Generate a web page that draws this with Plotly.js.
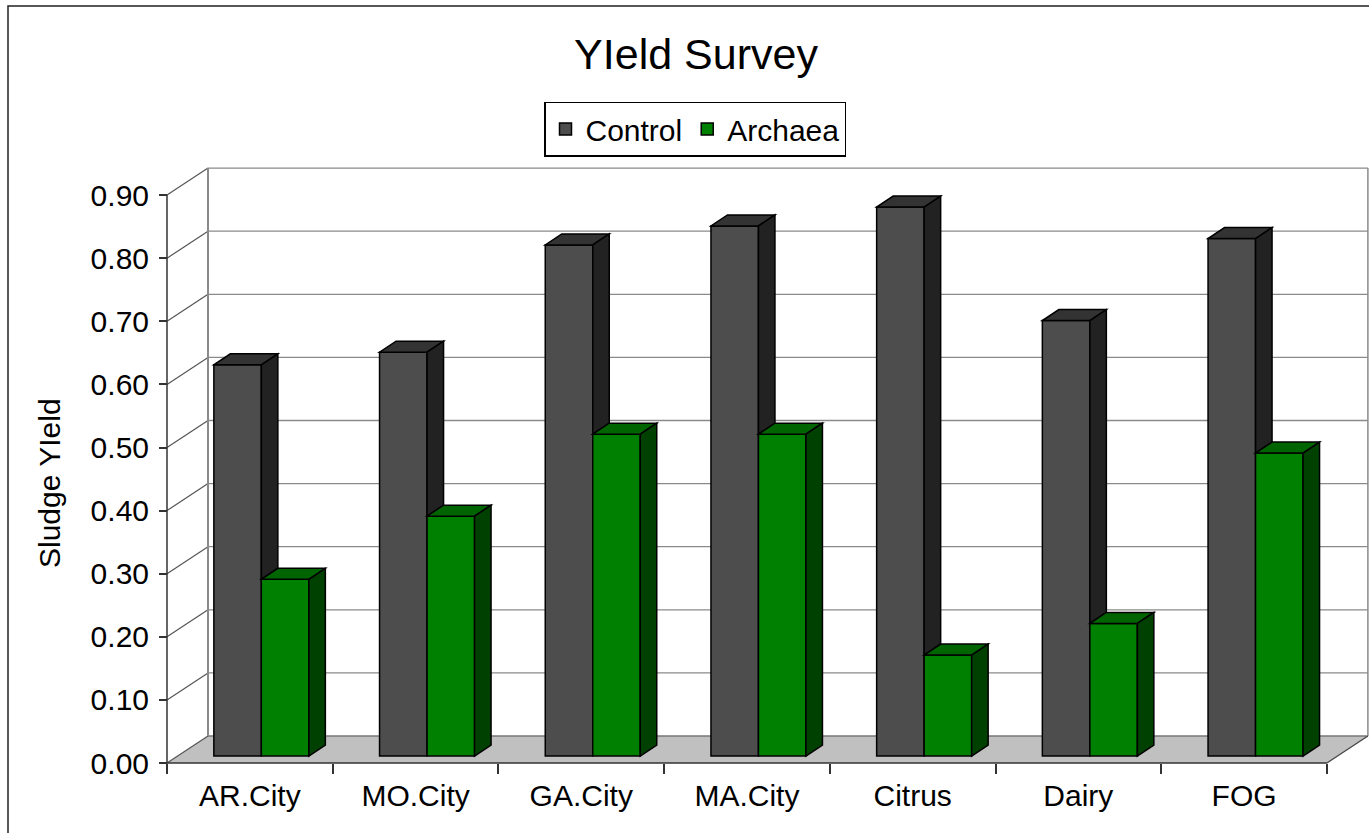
<!DOCTYPE html>
<html>
<head>
<meta charset="utf-8">
<script src="https://cdn.plot.ly/plotly-3.0.1.min.js"></script>
<style>html,body{margin:0;padding:0;background:#fff;}#chart{width:1369px;height:833px;}</style>
</head>
<body>
<div id="chart"></div>
<script>
// ---- data ----
const categories = ['AR.City', 'MO.City', 'GA.City', 'MA.City', 'Citrus', 'Dairy', 'FOG'];
const control = [0.62, 0.64, 0.81, 0.84, 0.87, 0.69, 0.82];
const archaea = [0.28, 0.38, 0.51, 0.51, 0.16, 0.21, 0.48];
const yTicks = [0.0, 0.1, 0.2, 0.3, 0.4, 0.5, 0.6, 0.7, 0.8, 0.9];
const seriesNames = ['Control', 'Archaea'];

// ---- geometry (pixels -> data units) ----
const ML = 162, MR = 0, MT = 165, MB = 67;
const PW = 1369 - ML - MR, PH = 833 - MT - MB;
const SX = 165.7, SY = 631;                 // px per category, px per unit value
const xLo = -0.5 - 5 / SX, yLo = -3 / SY;
const xRange = [xLo, xLo + PW / SX];
const yRange = [yLo, yLo + PH / SY];
const BX = 41 / SX, BY = 27 / SY;           // back wall depth offset
const BASE = 7 / SY;                        // bar front plane lift
const DX = 16.5 / SX, DY = 11 / SY;         // bar depth
const BW = 47.5 / SX;                       // bar width
const OFF_C = -36 / SX, OFF_A = OFF_C + BW;

const idx = categories.map((c, i) => i);
const nCat = categories.length;
const xStart = -0.5, xEnd = nCat - 0.5;
const yTop = yTicks[yTicks.length - 1];
const boundaries = [];
for (let i = 0; i <= nCat; i++) boundaries.push(i - 0.5);

const f = v => v.toFixed(5);
const shapes = [];
function line(x0, y0, x1, y1, color, width, layer) {
  shapes.push({type: 'line', xref: 'x', yref: 'y', x0, y0, x1, y1,
    line: {color, width}, layer: layer || 'below'});
}
function poly(pts, fill, layer) {
  const d = 'M' + pts.map(p => f(p[0]) + ',' + f(p[1])).join('L') + 'Z';
  shapes.push({type: 'path', xref: 'x', yref: 'y', path: d, fillcolor: fill,
    line: {color: '#000', width: 1.5}, layer: layer || 'above'});
}

// outer border
shapes.push({type: 'rect', xref: 'paper', yref: 'paper',
  x0: (8 - ML) / PW, x1: (1385 - ML) / PW, y0: (PH + MT - 845) / PH, y1: (PH + MT - 6) / PH,
  line: {color: '#222', width: 1.5}, fillcolor: 'rgba(0,0,0,0)', layer: 'below'});

// floor
shapes.push({type: 'path', xref: 'x', yref: 'y',
  path: 'M' + f(xStart) + ',0L' + f(xEnd) + ',0L' + f(xEnd + BX) + ',' + f(BY) + 'L' + f(xStart + BX) + ',' + f(BY) + 'Z',
  fillcolor: '#c0c0c0', line: {width: 0}, layer: 'below'});
// back wall gridlines & left wall diagonals
yTicks.forEach(v => {
  if (v > 0) line(xStart + BX, v + BY, xEnd + BX, v + BY, '#8a8a8a', 1.3);
  line(xStart, v, xStart + BX, v + BY, '#555', 1.2);
});
line(xStart + BX, BY, xEnd + BX, BY, '#777', 1.3);                 // floor back edge
line(xStart + BX, BY, xStart + BX, yTop + BY, '#8a8a8a', 2);      // back-left edge
line(xEnd + BX, BY, xEnd + BX, yTop + BY, '#8a8a8a', 1.5);        // back-right edge
line(xEnd, 0, xEnd + BX, BY, '#444', 1.3);                        // floor right edge
line(xStart, 0, xStart, yTop, '#333', 1.5);                       // front y axis
line(xStart, 0, xEnd, 0, '#333', 1.5);                            // front x axis

// 3D faces of bars
idx.forEach(i => {
  const vc = control[i], va = archaea[i];
  let x0 = i + OFF_C, x1 = x0 + BW;
  poly([[x0, BASE + vc], [x1, BASE + vc], [x1 + DX, BASE + vc + DY], [x0 + DX, BASE + vc + DY]], '#333333');
  const lo = Math.min(va, vc);
  poly([[x1, BASE + lo], [x1, BASE + vc], [x1 + DX, BASE + vc + DY], [x1 + DX, BASE + lo + DY]], '#222222');
  x0 = i + OFF_A; x1 = x0 + BW;
  poly([[x0, BASE + va], [x1, BASE + va], [x1 + DX, BASE + va + DY], [x0 + DX, BASE + va + DY]], '#006400');
  poly([[x1, BASE], [x1, BASE + va], [x1 + DX, BASE + va + DY], [x1 + DX, BASE + DY]], '#004000');
});

const font = 'Liberation Sans, Arial, sans-serif';
const traces = [
  {type: 'bar', name: seriesNames[0], x: idx, y: control, base: BASE, offset: OFF_C, width: BW,
   text: categories, hovertemplate: '%{text}: %{y:.2f}<extra>Control</extra>', textposition: 'none',
   marker: {color: '#4d4d4d', line: {color: '#000', width: 1.5}}},
  {type: 'bar', name: seriesNames[1], x: idx, y: archaea, base: BASE, offset: OFF_A, width: BW,
   text: categories, hovertemplate: '%{text}: %{y:.2f}<extra>Archaea</extra>', textposition: 'none',
   marker: {color: '#008000', line: {color: '#000', width: 1.5}}}
];

const layout = {
  width: 1369, height: 833,
  margin: {l: ML, r: MR, t: MT, b: MB, autoexpand: false},
  paper_bgcolor: '#fff', plot_bgcolor: 'rgba(0,0,0,0)',
  font: {family: font, color: '#000'},
  title: {text: 'YIeld Survey', font: {size: 43, family: font, color: '#000'},
          xref: 'container', x: 696 / 1369, xanchor: 'center',
          yref: 'container', y: 1 - 54 / 833, yanchor: 'middle'},
  barmode: 'overlay',
  showlegend: true,
  legend: {orientation: 'h', xref: 'container', x: 695 / 1369, xanchor: 'center',
           yref: 'container', y: 1 - 129 / 833, yanchor: 'middle',
           bordercolor: '#000', borderwidth: 1.5, bgcolor: '#fff',
           font: {size: 30, family: font, color: '#000'}},
  xaxis: {type: 'linear', range: xRange, anchor: 'free', position: 3 / PH,
          tickmode: 'array', tickvals: idx, ticktext: categories, ticks: '',
          showgrid: false, zeroline: false, showline: false, fixedrange: true,
          tickfont: {size: 30, family: font, color: '#000'}, ticklabelstandoff: 12,
          minor: {tickmode: 'array', tickvals: boundaries, ticks: 'outside', ticklen: 10,
                  tickcolor: '#333', tickwidth: 1.5, showgrid: false}},
  yaxis: {range: yRange, anchor: 'free', position: 5 / PW,
          tickmode: 'array', tickvals: yTicks, tickformat: '.2f',
          ticks: 'outside', ticklen: 8, tickcolor: '#333', tickwidth: 1.5,
          showgrid: false, zeroline: false, showline: false, fixedrange: true,
          tickfont: {size: 30, family: font, color: '#000'}, ticklabelstandoff: 4},
  annotations: [{text: 'Sludge YIeld', xref: 'paper', yref: 'paper',
                 x: (49 - ML) / PW, y: (PH + MT - 483) / PH, textangle: -90,
                 showarrow: false, xanchor: 'center', yanchor: 'middle',
                 font: {size: 30, family: font, color: '#000'}}],
  shapes: shapes
};

Plotly.newPlot('chart', traces, layout, {displayModeBar: false, responsive: false});
</script>
</body>
</html>
